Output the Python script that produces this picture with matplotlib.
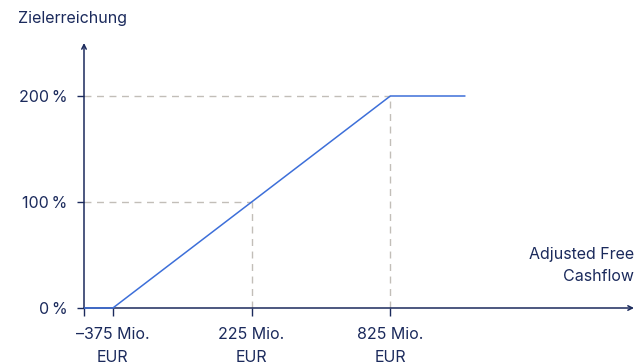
import matplotlib
matplotlib.use('Agg')
import matplotlib.pyplot as plt

# Zielkurve: Adjusted Free Cashflow (Mio. EUR) -> Zielerreichung (%)
cashflow = [-500, -375, 225, 825, 1150]
zielerreichung = [0, 0, 100, 200, 200]

x_ticks = [-500, -375, 225, 825]
x_labels = ['', '\u2013375 Mio.\nEUR', '225 Mio.\nEUR', '825 Mio.\nEUR']
y_ticks = [0, 100, 200]
y_labels = ['0\u2009%', '100\u2009%', '200\u2009%']

NAVY = '#1b2a5c'
BLAU = '#3d6fd9'
GRAU = '#c2beb8'

plt.rcParams['font.family'] = ['Inter', 'DejaVu Sans']
plt.rcParams['font.size'] = 11.5

W, H = 638, 364
fig = plt.figure(figsize=(W / 100, H / 100), dpi=100)
# Achsenbereich in Pixeln: links 84, rechts 634, unten 308, oben 43
ax = fig.add_axes([84 / W, (H - 308) / H, (634 - 84) / W, (308 - 43) / H])
ax.set_xlim(-500, 1879)
ax.set_ylim(0, 250)

for s in ax.spines.values():
    s.set_visible(False)

# Hilfslinien (gestrichelt) zu den Stützpunkten
for xv, yv in zip(x_ticks[2:], y_ticks[1:]):
    ax.plot([-500, xv], [yv, yv], color=GRAU, lw=1, dashes=(5, 4), zorder=1)
    ax.plot([xv, xv], [0, yv], color=GRAU, lw=1, dashes=(5, 4), zorder=1)

ax.plot(cashflow, zielerreichung, color=BLAU, lw=1.1, zorder=3,
        solid_capstyle='butt', clip_on=False)

# Achsen mit Pfeilspitzen
pfeil = dict(arrowstyle='->', color=NAVY, lw=1.1, shrinkA=0, shrinkB=0,
             mutation_scale=8)
ax.annotate('', xy=(0, 1), xytext=(0, 0), xycoords='axes fraction',
            arrowprops=pfeil, zorder=2)
ax.annotate('', xy=(1, 0), xytext=(0, 0), xycoords='axes fraction',
            arrowprops=pfeil, zorder=2)

ax.set_xticks(x_ticks)
ax.set_xticklabels(x_labels, linespacing=1.7)
ax.set_yticks(y_ticks)
ax.set_yticklabels(y_labels)
ax.tick_params(axis='x', direction='out', length=5.5, width=1, color=NAVY,
               labelcolor=NAVY, pad=8)
ax.tick_params(axis='y', direction='out', length=5, width=1, color=NAVY,
               labelcolor=NAVY, pad=7)

fig.text(18 / W, 1 - 19 / H, 'Zielerreichung', color=NAVY, va='center',
         ha='left')
ax.text(1, 0.16, 'Adjusted Free\nCashflow', transform=ax.transAxes,
        ha='right', va='center', color=NAVY, linespacing=1.6)

fig.savefig('out.png', dpi=100)
plt.close(fig)
